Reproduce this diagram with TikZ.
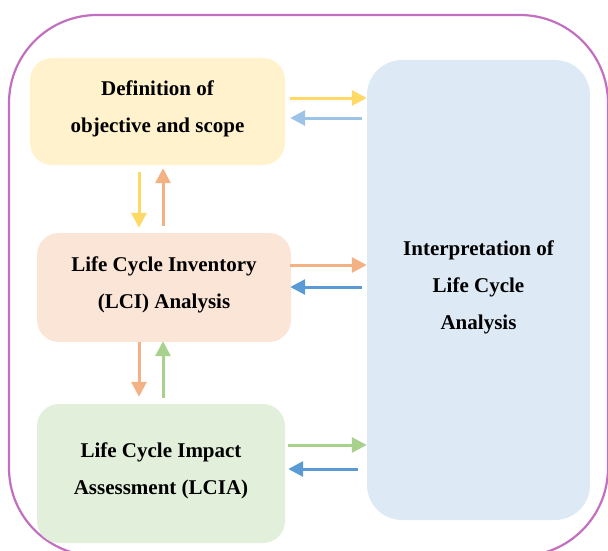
\documentclass[tikz,border=0pt]{standalone}
\usepackage{fontspec}
\setmainfont{Liberation Serif}
\usetikzlibrary{calc,arrows.meta,positioning}

\begin{document}
\begin{tikzpicture}[
    x=1pt, y=-1pt,
    % Stage boxes
    stagebox/.style={rounded corners=22pt, align=center, inner sep=0pt, text depth=9.5pt,
        font=\fontsize{21}{37}\selectfont\bfseries},
    flow/.style={-{Triangle[length=15pt,width=15pt]}, line width=3pt},
    >=Stealth
    ]
    
    % Colors
    \definecolor{frameColor}{HTML}{C36FC0}
    \definecolor{defFill}{HTML}{FFF2CC}
    \definecolor{defArrow}{HTML}{FFD966}
    \definecolor{lciFill}{HTML}{FBE5D6}
    \definecolor{lciArrow}{HTML}{F4B183}
    \definecolor{lciaFill}{HTML}{E2EFDA}
    \definecolor{lciaArrow}{HTML}{A9D18E}
    \definecolor{interpFill}{HTML}{DDEAF6}
    \definecolor{backLight}{HTML}{9DC3E6}
    \definecolor{backDark}{HTML}{5B9BD5}
    
    \useasboundingbox (0,0) rectangle (608,551);
    
    % Outer frame
    \draw[frameColor, line width=2.2pt, rounded corners=88pt] (9,15) rectangle (608,556);
    
    % Boxes
    \node[stagebox, fill=defFill, minimum width=255pt, minimum height=107pt] (def) at (157.5,111.5)
        {Definition of\\objective and scope};
    \node[stagebox, fill=lciFill, minimum width=254pt, minimum height=109pt] (lci) at (164,287.5)
        {Life Cycle Inventory\\(LCI) Analysis};
    \node[stagebox, fill=lciaFill, minimum width=248pt, minimum height=139pt] (lcia) at (161,473.5)
        {Life Cycle Impact\\Assessment (LCIA)};
    \node[stagebox, fill=interpFill, rounded corners=35pt, minimum width=223pt, minimum height=460pt] (interp) at (478.5,290)
        {Interpretation of\\Life Cycle\\Analysis};
    
    % Links to interpretation
    \draw[flow, defArrow] ($(def.east |- 0,98)+(5,0)$) -- (interp.west |- 0,98);
    \draw[flow, backLight] ($(interp.west |- 0,118)+(-5,0)$) -- ($(def.east |- 0,118)+(5,0)$);
    \draw[flow, lciArrow] ($(lci.east |- 0,265)+(-1,0)$) -- (interp.west |- 0,265);
    \draw[flow, backDark] ($(interp.west |- 0,287)+(-5,0)$) -- ($(lci.east |- 0,287)+(-1,0)$);
    \draw[flow, lciaArrow] ($(lcia.east |- 0,445)+(3,0)$) -- (interp.west |- 0,445);
    \draw[flow, backDark] ($(interp.west |- 0,469)+(-9,0)$) -- ($(lcia.east |- 0,469)+(3,0)$);
    
    % Links between stages
    \draw[flow, defArrow] ($(def.south -| 139,0)+(0,7)$) -- ($(lci.north -| 139,0)+(0,-5)$);
    \draw[flow, lciArrow] ($(lci.north -| 163,0)+(0,-7)$) -- ($(def.south -| 163,0)+(0,3)$);
    \draw[flow, lciArrow] (lci.south -| 139,0) -- ($(lcia.north -| 139,0)+(0,-7)$);
    \draw[flow, lciaArrow] ($(lcia.north -| 163,0)+(0,-6)$) -- ($(lci.south -| 163,0)+(0,-1)$);
\end{tikzpicture}
\end{document}
